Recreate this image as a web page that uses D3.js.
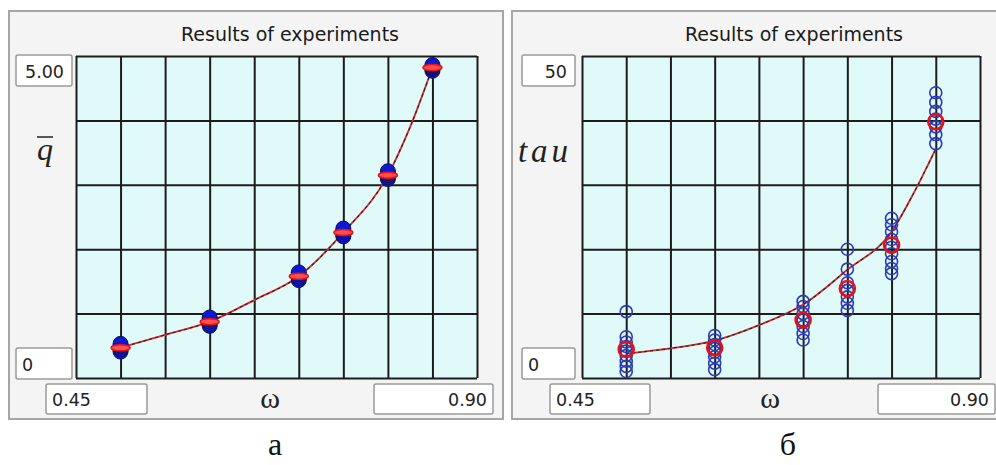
<!DOCTYPE html>
<html>
<head>
<meta charset="utf-8">
<script src="https://cdn.jsdelivr.net/npm/d3@7/dist/d3.min.js"></script>
<style>
  html, body { margin: 0; padding: 0; background: #ffffff; }
  svg { display: block; }
</style>
</head>
<body>
<svg id="chart" width="996" height="465"></svg>
<script>
// ---------------- DATA ----------------
const omega = [0.50, 0.60, 0.70, 0.75, 0.80, 0.85];
const xGridTicks = [0.45, 0.50, 0.55, 0.60, 0.65, 0.70, 0.75, 0.80, 0.85, 0.90];
const xTickLabels = ["0.45", "0.90"];

// Panel a: mean q
const qMean = [0.47, 0.875, 1.58, 2.26, 3.15, 4.82];
const qRuns = [
  [0.41, 0.44, 0.47, 0.50, 0.53],
  [0.81, 0.84, 0.875, 0.91, 0.94],
  [1.52, 1.55, 1.58, 1.61, 1.64],
  [2.20, 2.23, 2.26, 2.29, 2.32],
  [3.09, 3.12, 3.15, 3.18, 3.21],
  [4.77, 4.80, 4.82, 4.84, 4.86]
];
const qFitX = [0.50, 0.55, 0.60, 0.65, 0.70, 0.75, 0.80, 0.825, 0.85];
const qFit  = [0.47, 0.67, 0.875, 1.21, 1.58, 2.26, 3.15, 3.9, 4.82];
const qYTicks = [0, 1, 2, 3, 4, 5];
const qTickLabels = ["0", "5.00"];

// Panel б: tau
const tauMean = [4.45, 4.7, 9.0, 13.9, 20.65, 39.8];
const tauRuns = [
  [10.3, 6.4, 5.6, 4.9, 4.2, 3.5, 2.6, 1.8, 1.0],
  [6.6, 5.9, 5.2, 4.6, 4.0, 3.3, 2.3, 1.3],
  [11.9, 11.1, 10.0, 9.0, 8.0, 6.9, 5.9],
  [20.0, 16.9, 14.8, 13.6, 12.6, 11.6, 10.5],
  [24.8, 23.8, 22.7, 21.5, 20.3, 19.3, 18.1, 17.0, 16.2],
  [44.3, 42.8, 41.4, 40.2, 39.0, 37.8, 36.4]
];
const tauFitX = [0.50, 0.55, 0.60, 0.65, 0.70, 0.75, 0.80, 0.825, 0.85];
const tauFit  = [3.8, 4.6, 5.8, 8.2, 11.4, 16.8, 22.7, 28.7, 35.6];
const tauYTicks = [0, 10, 20, 30, 40, 50];
const tauTickLabels = ["0", "50"];

const title = "Results of experiments";

// ---------------- DRAWING ----------------
const svg = d3.select("#chart");

function drawPanel(cfg) {
  const g = svg.append("g");
  g.append("rect")
    .attr("x", cfg.frame[0]).attr("y", cfg.frame[1])
    .attr("width", cfg.frame[2]).attr("height", cfg.frame[3])
    .attr("fill", "#f4f4f4").attr("stroke", "#a6a6a6").attr("stroke-width", 2);

  const x = d3.scaleLinear().domain([0.45, 0.90]).range([cfg.px0, cfg.px1]);
  const y = d3.scaleLinear().domain(cfg.yDomain).range([cfg.py1, cfg.py0]);
  const w = cfg.px1 - cfg.px0, h = cfg.py1 - cfg.py0;

  g.append("rect").attr("x", cfg.px0).attr("y", cfg.py0)
    .attr("width", w).attr("height", h).attr("fill", "#e0fafa");

  const gx = g.append("g").attr("transform", `translate(0,${cfg.py1})`)
    .call(d3.axisBottom(x).tickValues(xGridTicks).tickSize(-h).tickFormat(""));
  const gy = g.append("g").attr("transform", `translate(${cfg.px0},0)`)
    .call(d3.axisLeft(y).tickValues(cfg.yTicks).tickSize(-w).tickFormat(""));
  [gx, gy].forEach(a => {
    a.select(".domain").remove();
    a.selectAll("line").attr("stroke", "#1c1c1c").attr("stroke-width", 2);
  });

  g.append("text").attr("x", cfg.titleX).attr("y", 41)
    .attr("text-anchor", "middle")
    .attr("font-family", "DejaVu Sans, Verdana, sans-serif")
    .attr("font-size", 19).attr("fill", "#1a1a1a").text(title);

  function box(bx, by, bw, bh, txt, anchor, tx) {
    g.append("rect").attr("x", bx).attr("y", by).attr("width", bw).attr("height", bh)
      .attr("rx", 2).attr("fill", "#ffffff").attr("stroke", "#9a9a9a").attr("stroke-width", 1.5);
    g.append("text").attr("x", tx).attr("y", by + bh - 8)
      .attr("text-anchor", anchor)
      .attr("font-family", "DejaVu Sans, Verdana, sans-serif")
      .attr("font-size", 17.5).attr("fill", "#222").text(txt);
  }
  const yb = cfg.yBox;
  box(yb[0], 55, yb[1], 31, cfg.yLabels[1], "end", yb[0] + yb[1] - 8);
  box(yb[0], 348, yb[1], 31, cfg.yLabels[0], "start", yb[0] + 6);
  box(cfg.xBoxL[0], 384, cfg.xBoxL[1], 30, xTickLabels[0], "start", cfg.xBoxL[0] + 6);
  box(cfg.xBoxR[0], 384, cfg.xBoxR[1], 30, xTickLabels[1], "end", cfg.xBoxR[0] + cfg.xBoxR[1] - 6);

  g.append("text").attr("x", cfg.omegaX).attr("y", 408).attr("text-anchor", "middle")
    .attr("font-family", "Liberation Serif, serif").attr("font-size", 30)
    .attr("fill", "#222").text("ω");

  const fitPts = cfg.fitX.map((v, i) => [x(v), y(cfg.fit[i])]);
  const line = d3.line().curve(d3.curveMonotoneX);
  g.append("path").attr("d", line(fitPts)).attr("fill", "none")
    .attr("stroke", "#d42a2a").attr("stroke-width", 1.8);
  g.append("path").attr("d", line(fitPts)).attr("fill", "none")
    .attr("stroke", "#1a1a1a").attr("stroke-width", 1.1).attr("stroke-dasharray", "3,3").attr("opacity", 0.85);

  cfg.drawMarkers(g, x, y);

  g.append("text").attr("x", cfg.capX).attr("y", 455).attr("text-anchor", "middle")
    .attr("font-family", "Liberation Serif, Times New Roman, serif").attr("font-size", 32)
    .attr("fill", "#111").text(cfg.caption);
  return {g, x, y};
}

// Panel a
const pa = drawPanel({
  frame: [9, 11, 494, 408], px0: 76, px1: 477, py0: 56, py1: 378,
  yDomain: [0, 5], yTicks: qYTicks, yLabels: qTickLabels,
  titleX: 290, yBox: [16, 56], xBoxL: [46, 101], xBoxR: [374, 119], omegaX: 270,
  fitX: qFitX, fit: qFit, caption: "а", capX: 275,
  drawMarkers: (g, x, y) => {
    omega.forEach((w, i) => {
      g.selectAll(null).data(qRuns[i]).enter().append("circle")
        .attr("cx", x(w)).attr("cy", d => y(d)).attr("r", 7.5)
        .attr("fill", "#0a1ad6").attr("stroke", "#101050").attr("stroke-width", 1);
    });
    g.selectAll(null).data(qMean).enter().append("ellipse")
      .attr("cx", (d, i) => x(omega[i])).attr("cy", d => y(d))
      .attr("rx", 9.5).attr("ry", 3).attr("fill", "#ff5050")
      .attr("stroke", "#ee1010").attr("stroke-width", 1.5);
  }
});
pa.g.append("text").attr("x", 45).attr("y", 160).attr("text-anchor", "middle")
  .attr("font-family", "Liberation Serif, serif").attr("font-style", "italic")
  .attr("font-size", 32).attr("fill", "#222").text("q");
pa.g.append("line").attr("x1", 37).attr("x2", 53).attr("y1", 137).attr("y2", 137)
  .attr("stroke", "#222").attr("stroke-width", 1.5);

// Panel б
const pb = drawPanel({
  frame: [512, 11, 490, 408], px0: 582, px1: 980, py0: 56, py1: 378,
  yDomain: [0, 50], yTicks: tauYTicks, yLabels: tauTickLabels,
  titleX: 794, yBox: [522, 53], xBoxL: [550, 100], xBoxR: [878, 117], omegaX: 770,
  fitX: tauFitX, fit: tauFit, caption: "б", capX: 788,
  drawMarkers: (g, x, y) => {
    omega.forEach((w, i) => {
      g.selectAll(null).data(tauRuns[i]).enter().append("circle")
        .attr("cx", x(w)).attr("cy", d => y(d)).attr("r", 6)
        .attr("fill", "none").attr("stroke", "#2a3ab8").attr("stroke-width", 1.6);
    });
    g.selectAll(null).data(tauMean).enter().append("circle")
      .attr("cx", (d, i) => x(omega[i])).attr("cy", d => y(d)).attr("r", 7.5)
      .attr("fill", "none").attr("stroke", "#e81010").attr("stroke-width", 2.6);
  }
});
pb.g.append("text").attr("x", 545).attr("y", 162).attr("text-anchor", "middle")
  .attr("font-family", "Liberation Serif, serif").attr("font-style", "italic")
  .attr("font-size", 33).attr("letter-spacing", 4).attr("fill", "#222").text("tau");
</script>
</body>
</html>
